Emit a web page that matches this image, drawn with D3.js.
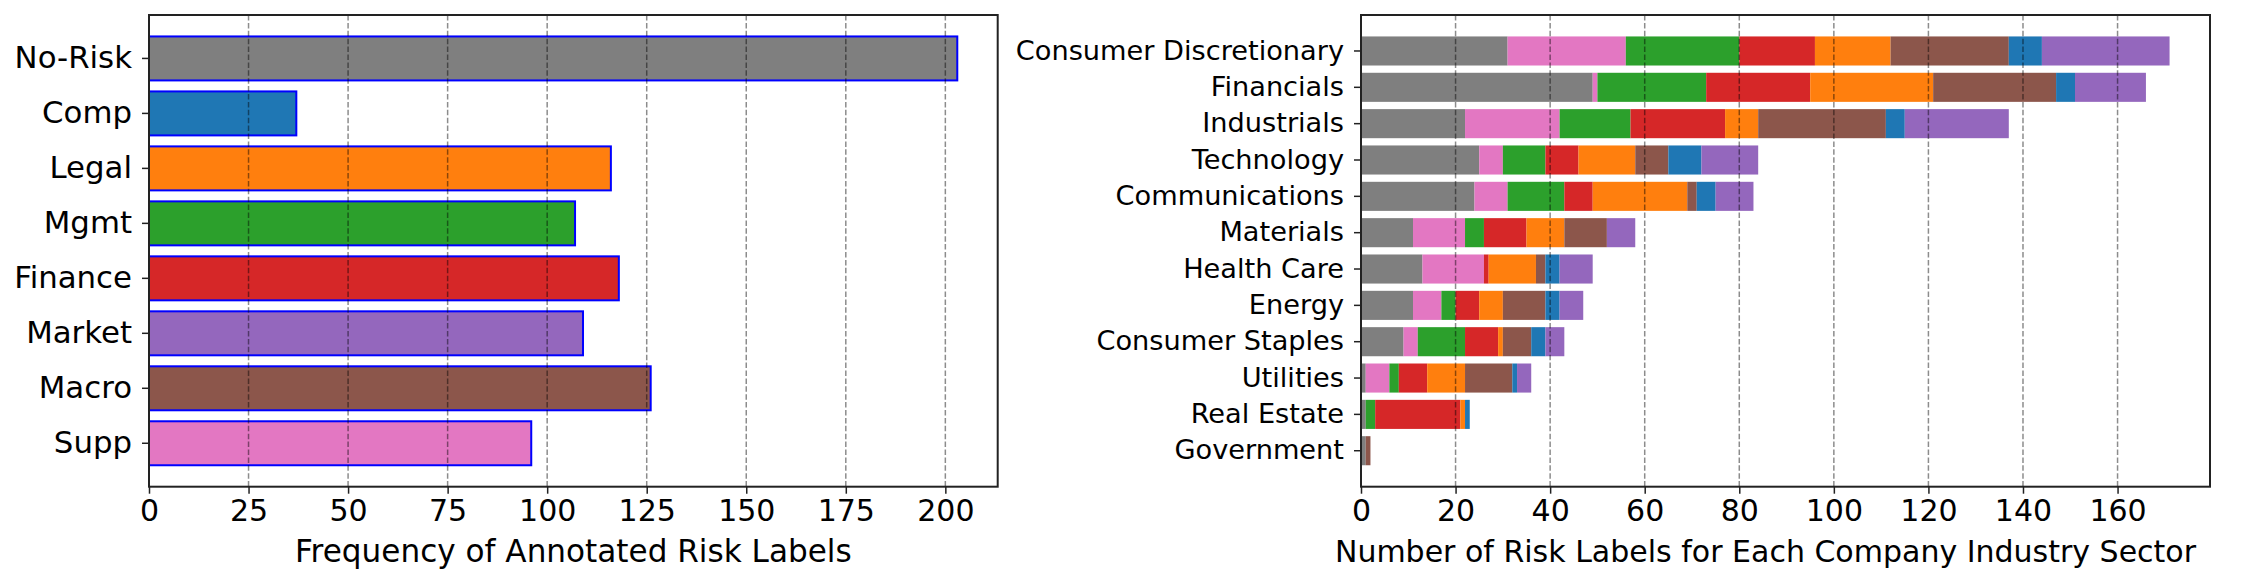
<!DOCTYPE html>
<html>
<head>
<meta charset="utf-8">
<script src="https://cdn.jsdelivr.net/npm/d3@7"></script>
<style>
  body { margin: 0; background: #fff; }
  svg { display: block; font-family: "DejaVu Sans", sans-serif; }
</style>
</head>
<body>
<div id="chart"></div>
<script>
// left chart: totals per risk label
var riskLabels = ["No-Risk", "Comp", "Legal", "Mgmt", "Finance", "Market", "Macro", "Supp"];
var riskCounts = [203, 37, 116, 107, 118, 109, 126, 96];
var riskColors = ["#7f7f7f", "#1f77b4", "#ff7f0e", "#2ca02c", "#d62728", "#9467bd", "#8c564b", "#e377c2"];
var leftTicks = [0, 25, 50, 75, 100, 125, 150, 175, 200];

// right chart: risk labels per sector (stack order = keys)
var sectors = ["Consumer Discretionary", "Financials", "Industrials", "Technology", "Communications",
  "Materials", "Health Care", "Energy", "Consumer Staples", "Utilities", "Real Estate", "Government"];
var stackKeys = ["No-Risk", "Supp", "Mgmt", "Finance", "Legal", "Macro", "Comp", "Market"];
var noRiskBySector  = [31, 49, 22, 25, 24, 11, 13, 11, 9, 1, 1, 1];
var suppBySector    = [25, 1, 20, 5, 7, 11, 13, 6, 3, 5, 0, 0];
var mgmtBySector    = [24, 23, 15, 9, 12, 4, 0, 3, 10, 2, 2, 0];
var financeBySector = [16, 22, 20, 7, 6, 9, 1, 5, 7, 6, 18, 0];
var legalBySector   = [16, 26, 7, 12, 20, 8, 10, 5, 1, 8, 1, 0];
var macroBySector   = [25, 26, 27, 7, 2, 9, 2, 9, 6, 10, 0, 1];
var compBySector    = [7, 4, 4, 7, 4, 0, 3, 3, 3, 1, 1, 0];
var marketBySector  = [27, 15, 22, 12, 8, 6, 7, 5, 4, 3, 0, 0];
var rightTicks = [0, 20, 40, 60, 80, 100, 120, 140, 160];

var svgWidth = 2249, svgHeight = 583;
var svg = d3.select("#chart").append("svg")
  .attr("width", svgWidth)
  .attr("height", svgHeight);

var axTop = 15, axBottom = 486.7;

// matplotlib-like band: 0.8 bars, 5% margins
function bandScale(domain) {
  var n = domain.length;
  return d3.scaleBand()
    .domain(domain)
    .range([axTop, axBottom])
    .paddingInner(0.2)
    .paddingOuter(0.05 * (n - 0.2));
}

function drawFrame(g, x, y, w, ticks, labelSize, xlabel, xlabelSize, xlabelShift) {
  var h = axBottom - axTop;
  // grid
  g.append("g").selectAll("line")
    .data(ticks.filter(d => d > 0))
    .enter().append("line")
    .attr("x1", d => x(d)).attr("x2", d => x(d))
    .attr("y1", axTop).attr("y2", axBottom)
    .attr("stroke", "#000")
    .attr("stroke-opacity", 0.45)
    .attr("stroke-width", 1.5)
    .attr("stroke-dasharray", "5.5,2.4");

  var xAxis = d3.axisBottom(x).tickValues(ticks).tickSize(7).tickPadding(6).tickSizeOuter(0);
  var gx = g.append("g").attr("transform", `translate(0,${axBottom})`).call(xAxis);
  gx.select(".domain").remove();
  gx.selectAll("text").attr("font-size", 30).attr("fill", "#000").attr("font-family", "DejaVu Sans");
  gx.selectAll("line").attr("stroke", "#222").attr("stroke-width", 1.5);

  var yAxis = d3.axisLeft(y).tickSize(7).tickPadding(10).tickSizeOuter(0);
  var gy = g.append("g").attr("transform", `translate(${x.range()[0]},0)`).call(yAxis);
  gy.select(".domain").remove();
  gy.selectAll("text").attr("font-size", labelSize).attr("fill", "#000").attr("font-family", "DejaVu Sans");
  gy.selectAll("line").attr("stroke", "#222").attr("stroke-width", 1.5);

  // frame
  g.append("rect")
    .attr("x", x.range()[0]).attr("y", axTop)
    .attr("width", w).attr("height", h)
    .attr("fill", "none")
    .attr("stroke", "#222")
    .attr("stroke-width", 2);

  g.append("text")
    .attr("x", x.range()[0] + w / 2 + xlabelShift)
    .attr("y", 562)
    .attr("text-anchor", "middle")
    .attr("font-size", xlabelSize)
    .text(xlabel);
}

// ---------- left chart ----------
var lx0 = 149, lx1 = 997.7;
var xLeft = d3.scaleLinear().domain([0, d3.max(riskCounts) * 1.05]).range([lx0, lx1]);
var yLeft = bandScale(riskLabels);
var leftG = svg.append("g");

leftG.append("g").selectAll("rect")
  .data(riskLabels)
  .enter().append("rect")
  .attr("x", xLeft(0))
  .attr("y", d => yLeft(d))
  .attr("width", (d, i) => xLeft(riskCounts[i]) - xLeft(0))
  .attr("height", yLeft.bandwidth())
  .attr("fill", (d, i) => riskColors[i])
  .attr("stroke", "blue")
  .attr("stroke-width", 2);

drawFrame(leftG, xLeft, yLeft, lx1 - lx0, leftTicks, 30.8, "Frequency of Annotated Risk Labels", 31.1, 0);

// ---------- right chart ----------
var seriesBySector = {
  "No-Risk": noRiskBySector, "Supp": suppBySector, "Mgmt": mgmtBySector, "Finance": financeBySector,
  "Legal": legalBySector, "Macro": macroBySector, "Comp": compBySector, "Market": marketBySector
};
var table = sectors.map(function(s, i) {
  var row = { sector: s };
  stackKeys.forEach(k => row[k] = seriesBySector[k][i]);
  return row;
});
var stacked = d3.stack().keys(stackKeys)(table);
var totals = table.map(r => d3.sum(stackKeys, k => r[k]));

var rx0 = 1361, rx1 = 2210;
var xRight = d3.scaleLinear().domain([0, d3.max(totals) * 1.05]).range([rx0, rx1]);
var yRight = bandScale(sectors);
var rightG = svg.append("g");
var colorOf = d3.scaleOrdinal().domain(riskLabels).range(riskColors);

rightG.append("g").selectAll("g")
  .data(stacked)
  .enter().append("g")
  .attr("fill", d => colorOf(d.key))
  .selectAll("rect")
  .data(d => d)
  .enter().append("rect")
  .attr("x", d => xRight(d[0]))
  .attr("y", d => yRight(d.data.sector))
  .attr("width", d => xRight(d[1]) - xRight(d[0]))
  .attr("height", yRight.bandwidth());

drawFrame(rightG, xRight, yRight, rx1 - rx0, rightTicks, 27.2, "Number of Risk Labels for Each Company Industry Sector", 30, -20);
</script>
</body>
</html>
